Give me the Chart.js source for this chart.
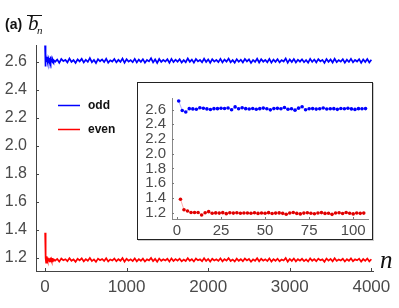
<!DOCTYPE html>
<html>
<head>
<meta charset="utf-8">
<script src="https://cdn.jsdelivr.net/npm/chart.js@4.4.1/dist/chart.umd.min.js"></script>
<style>
html, body { margin: 0; padding: 0; background: #fff; }
#wrap { position: relative; width: 399px; height: 308px; }
#main { position: absolute; left: 0; top: 0; }
#insetBox { position: absolute; left: 137px; top: 82px; width: 234px; height: 156px;
            border: 1px solid #222; background: #fff; box-shadow: 1px 1px 0 #ccc; }
#inset { position: absolute; left: 0; top: 0; }
</style>
</head>
<body>
<div id="wrap">
  <canvas id="main" width="399" height="308"></canvas>
  <div id="insetBox"><canvas id="inset" width="234" height="156"></canvas></div>
</div>
<script>
// ── DATA ──────────────────────────────────────────────────────────────────────
// early iterations (odd n = 1,3,5..., even n = 2,4,6...)
const oddEarly = [
    2.717, 2.587, 2.567, 2.612, 2.609, 2.605, 2.625, 2.617, 2.609, 2.600,
    2.612, 2.612, 2.617, 2.615, 2.621, 2.598, 2.636, 2.611, 2.624, 2.612,
    2.608, 2.614, 2.605, 2.612, 2.620, 2.610, 2.596, 2.613, 2.616, 2.610,
    2.628, 2.604, 2.611, 2.592, 2.619, 2.638, 2.597, 2.610, 2.613, 2.606,
    2.611, 2.622, 2.608, 2.610, 2.612, 2.603, 2.614, 2.611, 2.618, 2.609,
    2.602, 2.612, 2.610, 2.613
];
const evenEarly = [
    1.380, 1.238, 1.221, 1.200, 1.200, 1.200, 1.167, 1.196, 1.212, 1.190,
    1.195, 1.192, 1.198, 1.185, 1.196, 1.192, 1.197, 1.190, 1.194, 1.193,
    1.191, 1.196, 1.188, 1.193, 1.190, 1.198, 1.187, 1.192, 1.195, 1.189,
    1.176, 1.194, 1.201, 1.188, 1.181, 1.192, 1.197, 1.190, 1.183, 1.193,
    1.199, 1.188, 1.191, 1.175, 1.193, 1.196, 1.187, 1.200, 1.190, 1.181,
    1.194, 1.189, 1.192
];

// long run, sampled every 25 iterations from n = 125 to 4000
const TAIL_START = 125, TAIL_STEP = 25;
const oddTail = [
    2.601, 2.616, 2.593, 2.620, 2.605, 2.614, 2.596, 2.624, 2.599, 2.612, 2.592, 2.618,
    2.603, 2.621, 2.595, 2.615, 2.600, 2.626, 2.597, 2.613, 2.591, 2.619, 2.604, 2.617, 2.598, 2.622, 2.594, 2.611,
    2.602, 2.620, 2.596, 2.614, 2.599, 2.623, 2.593, 2.618, 2.601, 2.612, 2.597, 2.621, 2.595, 2.616, 2.600, 2.619,
    2.594, 2.613, 2.603, 2.625, 2.596, 2.617, 2.592, 2.620, 2.599, 2.614, 2.602, 2.618, 2.593, 2.621, 2.598, 2.615,
    2.601, 2.619, 2.595, 2.612, 2.597, 2.624, 2.600, 2.616, 2.594, 2.620, 2.603, 2.613, 2.596, 2.622, 2.599, 2.617,
    2.593, 2.618, 2.602, 2.614, 2.598, 2.621, 2.595, 2.616, 2.601, 2.623, 2.597, 2.612, 2.594, 2.619, 2.600, 2.615,
    2.596, 2.620, 2.603, 2.617, 2.592, 2.613, 2.599, 2.622, 2.595, 2.618, 2.601, 2.614, 2.597, 2.621, 2.594, 2.616,
    2.600, 2.619, 2.596, 2.612, 2.602, 2.624, 2.593, 2.617, 2.598, 2.620, 2.595, 2.615, 2.601, 2.618, 2.597, 2.613,
    2.594, 2.621, 2.599, 2.616, 2.596, 2.619, 2.603, 2.614, 2.592, 2.620, 2.600, 2.617, 2.595, 2.622, 2.598, 2.612,
    2.601, 2.618, 2.594, 2.615, 2.599, 2.621, 2.596, 2.613, 2.602, 2.619, 2.593, 2.616, 2.598, 2.620, 2.595, 2.614
];
const evenTail = [
    1.181, 1.193, 1.174, 1.196, 1.184, 1.191, 1.177, 1.199, 1.180, 1.190, 1.173, 1.194,
    1.183, 1.197, 1.176, 1.192, 1.180, 1.200, 1.178, 1.190, 1.172, 1.195, 1.184, 1.193, 1.179, 1.198, 1.175, 1.189,
    1.182, 1.196, 1.177, 1.191, 1.180, 1.199, 1.174, 1.194, 1.181, 1.190, 1.178, 1.197, 1.176, 1.192, 1.180, 1.195,
    1.175, 1.190, 1.183, 1.200, 1.177, 1.193, 1.173, 1.196, 1.180, 1.191, 1.182, 1.194, 1.174, 1.197, 1.179, 1.192,
    1.181, 1.195, 1.176, 1.189, 1.178, 1.199, 1.180, 1.192, 1.175, 1.196, 1.183, 1.190, 1.177, 1.198, 1.179, 1.193,
    1.174, 1.194, 1.182, 1.191, 1.179, 1.197, 1.176, 1.192, 1.181, 1.199, 1.178, 1.189, 1.175, 1.195, 1.180, 1.191,
    1.177, 1.196, 1.183, 1.193, 1.173, 1.190, 1.180, 1.198, 1.176, 1.194, 1.181, 1.191, 1.178, 1.197, 1.175, 1.192,
    1.180, 1.195, 1.177, 1.189, 1.182, 1.200, 1.174, 1.193, 1.179, 1.196, 1.176, 1.191, 1.181, 1.194, 1.178, 1.190,
    1.175, 1.197, 1.180, 1.192, 1.177, 1.195, 1.183, 1.190, 1.173, 1.196, 1.181, 1.193, 1.176, 1.198, 1.179, 1.189,
    1.182, 1.194, 1.175, 1.191, 1.180, 1.197, 1.177, 1.190, 1.183, 1.195, 1.174, 1.192, 1.179, 1.196, 1.176, 1.191
];

const mainXTicks  = [0, 1000, 2000, 3000, 4000];
const mainYTicks  = [1.2, 1.4, 1.6, 1.8, 2.0, 2.2, 2.4, 2.6];
const insetXTicks = [0, 25, 50, 75, 100];
const insetYTicks = [1.2, 1.4, 1.6, 1.8, 2.0, 2.2, 2.4, 2.6];
const seriesNames = ['odd', 'even'];

// ── HELPERS ───────────────────────────────────────────────────────────────────
const BLUE = '#0000ff', RED = '#ff0000';
const LABEL = '#4a4a4a', AXIS = '#444';
const SANS = '"Liberation Sans", Arial, Helvetica, sans-serif';
const SERIF = '"Liberation Serif", "Times New Roman", serif';

const oddPts  = oddEarly.map((v, i) => ({ x: 1 + 2 * i, y: v }));
const evenPts = evenEarly.map((v, i) => ({ x: 2 + 2 * i, y: v }));
const oddAll  = oddPts.concat(oddTail.map((v, i) => ({ x: TAIL_START + TAIL_STEP * i, y: v })));
const evenAll = evenPts.concat(evenTail.map((v, i) => ({ x: TAIL_START + TAIL_STEP * i, y: v })));

// tick marks pointing into the plot, like the original
const innerTicks = {
    id: 'innerTicks',
    afterDraw(chart, args, opts) {
        const { ctx, chartArea: a, scales: { x, y } } = chart;
        ctx.save();
        ctx.strokeStyle = opts.color;
        ctx.lineWidth = 1;
        ctx.beginPath();
        x.ticks.forEach(t => {
            const px = Math.round(x.getPixelForValue(t.value)) + 0.5;
            ctx.moveTo(px, a.bottom); ctx.lineTo(px, a.bottom - opts.len);
        });
        y.ticks.forEach(t => {
            const py = Math.round(y.getPixelForValue(t.value)) + 0.5;
            ctx.moveTo(a.left, py); ctx.lineTo(a.left + opts.len, py);
        });
        ctx.stroke();
        ctx.restore();
    }
};

// panel label, y label, x label and legend of the main plot
const decorations = {
    id: 'decorations',
    afterDraw(chart) {
        const ctx = chart.ctx;
        ctx.save();
        ctx.fillStyle = '#111';
        ctx.textBaseline = 'alphabetic';
        ctx.font = 'bold 14px ' + SANS;
        ctx.fillText('(a)', 5, 29);
        ctx.font = 'italic 21px ' + SERIF;
        ctx.fillText('b', 28, 30);
        ctx.font = 'italic 11px ' + SERIF;
        ctx.fillText('n', 37, 34);
        ctx.strokeStyle = '#111';
        ctx.lineWidth = 1;
        ctx.beginPath(); ctx.moveTo(27, 15.5); ctx.lineTo(42, 15.5); ctx.stroke();

        ctx.font = 'italic 25px ' + SERIF;
        ctx.fillText('n', 380, 268);

        const colors = [BLUE, RED], rows = [105.5, 129.5];
        ctx.font = 'bold 12px ' + SANS;
        ctx.textBaseline = 'middle';
        seriesNames.forEach((name, i) => {
            ctx.strokeStyle = colors[i];
            ctx.lineWidth = 1.5;
            ctx.beginPath(); ctx.moveTo(58, rows[i]); ctx.lineTo(80, rows[i]); ctx.stroke();
            ctx.fillStyle = '#111';
            ctx.fillText(name, 88, rows[i]);
        });
        ctx.restore();
    }
};

function axis(opts) {
    return Object.assign({
        type: 'linear',
        grid: { display: false, drawTicks: false, tickLength: 0 },
        border: { display: true, color: AXIS, width: 1 },
    }, opts);
}

// ── MAIN CHART ────────────────────────────────────────────────────────────────
new Chart(document.getElementById('main').getContext('2d'), {
    type: 'line',
    data: {
        datasets: [
            { label: seriesNames[0], data: oddAll,  borderColor: BLUE, borderWidth: 1.7, pointRadius: 0, tension: 0 },
            { label: seriesNames[1], data: evenAll, borderColor: RED,  borderWidth: 1.7, pointRadius: 0, tension: 0 }
        ]
    },
    options: {
        responsive: false, animation: false,
        layout: { padding: { top: 45, right: 26, left: 0, bottom: 0 } },
        plugins: { legend: { display: false }, tooltip: { enabled: false }, innerTicks: { color: AXIS, len: 3 } },
        scales: {
            x: axis({
                min: -110, max: 4020,
                afterBuildTicks: s => { s.ticks = mainXTicks.map(v => ({ value: v })); },
                afterFit: s => { s.height = 37; },
                ticks: { color: LABEL, font: { family: SANS, size: 17 }, padding: 6, maxRotation: 0, autoSkip: false,
                         callback: v => String(v) }
            }),
            y: axis({
                min: 1.107, max: 2.72,
                afterBuildTicks: s => { s.ticks = mainYTicks.map(v => ({ value: v })); },
                afterFit: s => { s.width = 36; },
                ticks: { color: LABEL, font: { family: SANS, size: 16 }, padding: 9, autoSkip: false,
                         callback: v => v.toFixed(1) }
            })
        }
    },
    plugins: [innerTicks, decorations]
});

// ── INSET ─────────────────────────────────────────────────────────────────────
new Chart(document.getElementById('inset').getContext('2d'), {
    type: 'line',
    data: {
        datasets: [
            { data: oddPts,  borderColor: 'rgba(70,70,255,0.55)', borderWidth: 0.8, tension: 0,
              pointRadius: 1.8, pointBackgroundColor: BLUE, pointBorderWidth: 0 },
            { data: evenPts, borderColor: 'rgba(255,70,70,0.55)', borderWidth: 0.8, tension: 0,
              pointRadius: 1.8, pointBackgroundColor: '#e00000', pointBorderWidth: 0 }
        ]
    },
    options: {
        responsive: false, animation: false,
        layout: { padding: { top: 5, right: 2, left: 0, bottom: 0 } },
        plugins: { legend: { display: false }, tooltip: { enabled: false }, innerTicks: { color: '#777', len: 2 } },
        scales: {
            x: axis({
                min: -2.8, max: 108.4,
                border: { display: true, color: '#888', width: 1 },
                afterBuildTicks: s => { s.ticks = insetXTicks.map(v => ({ value: v })); },
                afterFit: s => { s.height = 20; },
                ticks: { color: LABEL, font: { family: SANS, size: 15 }, padding: 3, maxRotation: 0, autoSkip: false }
            }),
            y: axis({
                min: 1.112, max: 2.757,
                border: { display: true, color: '#888', width: 1 },
                afterBuildTicks: s => { s.ticks = insetYTicks.map(v => ({ value: v })); },
                afterFit: s => { s.width = 34; },
                ticks: { color: LABEL, font: { family: SANS, size: 15 }, padding: 6, autoSkip: false,
                         callback: v => v.toFixed(1) }
            })
        }
    },
    plugins: [innerTicks]
});
</script>
</body>
</html>
